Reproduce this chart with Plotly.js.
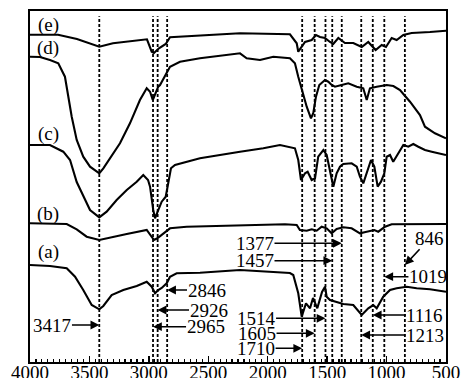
<!DOCTYPE html>
<html>
<head>
<meta charset="utf-8">
<script src="https://cdn.plot.ly/plotly-3.0.1.min.js"></script>
<style>
  html, body { margin: 0; padding: 0; background: #fff; }
  #chart { width: 463px; height: 378px; }
</style>
</head>
<body>
<div id="chart"></div>
<script>
// ---- Data: wavenumber (cm^-1) and offset transmittance (arbitrary units) ----
const wnE = [4000,3764,3605,3417,3302,3016,2976,2957,2915,2858,2822,2233,1813,1756,1743,1686,1630,1594,1560,1518,1476,1448,1406,1350,1280,1209,1154,1092,1041,1005,957,915,859,789,635,500];
const tE  = [327.3,327.3,323,315.3,318.7,322.7,310.3,309,313.7,318,324.7,328.7,327.7,318.7,310.3,320,322,327,325,324,320,318,324,319,319,315,320,312,317,315,324,322,327,329,330,331.3];

const wnD = [4000,3916,3832,3762,3706,3678,3649,3607,3552,3495,3417,3383,3327,3243,3159,3075,3018,2990,2967,2948,2921,2906,2850,2822,2738,2570,2233,2177,2065,1953,1813,1771,1743,1714,1672,1636,1617,1594,1566,1518,1490,1462,1434,1378,1322,1251,1196,1167,1140,1083,999,943,887,803,719,677,593,500];
const tD  = [305.3,305,302,298.7,285.3,265.3,245.3,222,205.3,195.3,188.7,193.7,203.7,218.7,238.7,262,273.7,270.3,262,267,275.3,277,290.3,295.3,300.3,303.7,308.7,303.7,302,305.3,303.7,298.7,285.3,272,255.3,243.7,248.7,265.3,277,282,280.3,277,275.3,277,278.7,275.3,273.7,262,273.7,275.3,277,276,272,260.3,247,235.3,228.7,223.7];

const wnC = [4000,3832,3720,3663,3607,3495,3417,3355,3271,3186,3102,3047,3007,2990,2963,2948,2926,2892,2858,2836,2814,2780,2570,2233,2037,1897,1813,1771,1743,1720,1686,1664,1630,1602,1575,1532,1504,1476,1448,1420,1392,1364,1294,1251,1224,1196,1167,1131,1103,1075,1047,1019,999,971,944,902,859,817,775,733,677,620,565,500];
const tC  = [217,217,210.3,202,180,152,144.7,150.3,162,172,180.3,187,182,175.3,152,143.7,150.3,160.3,165.3,180.3,193.7,197,203.7,210.3,213.7,217,215.3,213.7,202,182,188.7,190.3,182,183.7,205.3,212,207,192,175.3,188.7,195.3,198,198.7,195.3,185.3,178.7,188.7,202,195.3,175.3,180.3,188.7,205.3,207,200.3,208.7,217,215.3,218,215.3,212,210.3,208.7,207];

const wnB = [4000,3691,3607,3523,3417,3355,3186,3018,2976,2957,2929,2892,2850,2822,2682,2233,1855,1756,1729,1672,1630,1588,1546,1504,1462,1420,1364,1294,1224,1167,1103,1070,1013,957,500];
const tB  = [138.7,138,132.7,125.3,122,123.7,128,132,125.3,122,123.7,127,131.3,133.7,135.3,137,137.7,137,132,131.3,132.7,131.3,135.3,133.7,128.7,133,134.7,133.7,128.7,130.3,132,130.3,135.3,137.7,138];

const wnA = [4000,3832,3691,3621,3552,3481,3417,3383,3313,3215,3102,3018,2976,2948,2921,2892,2850,2822,2766,2570,2233,1813,1785,1743,1714,1678,1644,1619,1583,1543,1518,1504,1476,1434,1364,1280,1209,1154,1112,1083,1028,971,915,831,747,635,500];
const tA  = [97,96,93.7,85.3,72,57,52.7,56,67,72,76,80.3,75.3,68.7,72,74,78.7,85.3,88.7,89.3,92,89,87,68.7,45.3,58.7,53.7,64,53.7,70,75.3,65.3,62,60.3,58,57,47,53.7,57,53.7,65.3,72,73.7,75.3,73.7,72.7,70.3];

const curveNames = ["(a)","(b)","(c)","(d)","(e)"];
// marked band positions (cm^-1)
const peaks = [3417,2965,2926,2846,1710,1605,1514,1457,1377,1213,1116,1019,846];
const xTicks = [4000,3500,3000,2500,2000,1500,1000,500];

// ---- Layout configuration (positions / styles) ----
const labelPos = {   // peak -> [text centre x (cm^-1), y (data)]
  3417:[3811,37], 2846:[2515,72], 2926:[2498,52], 2965:[2523,35.3],
  1377:[2107,118.7], 1457:[2107,101.3], 1514:[2098,43.7], 1605:[2090,28.7], 1710:[2098,13.7],
  1019:[652,85.3], 1116:[677,47], 1213:[677,27]
};
const curveLabelPos = [[48,252],[48,214],[48,134],[48,48],[48,25]]; // pixel x,y centres

const black = '#000';
const lineStyle = {color: black, width: 2.1};
const series = [[wnA,tA],[wnB,tB],[wnC,tC],[wnD,tD],[wnE,tE]];
const traces = series.map((s,i) => ({
  x: s[0], y: s[1], type: 'scatter', mode: 'lines',
  line: lineStyle, name: curveNames[i], hoverinfo: 'skip'
}));

const W = 463, H = 378;
const M = {l: 30, r: 17, t: 11, b: 16};
const plotW = W - M.l - M.r, plotH = H - M.t - M.b;

const shapes = peaks.map(p => ({
  type: 'line', xref: 'x', yref: 'paper', x0: p, x1: p, y0: 0, y1: 0.985,
  line: {color: black, width: 1.8, dash: '3px,2px'}
}));

const annFont = {family: 'Liberation Serif, Times New Roman, serif', size: 19, color: black};
const annotations = [];
Object.keys(labelPos).forEach(k => {
  const p = +k, pos = labelPos[k];
  annotations.push({
    x: p, y: pos[1], xref: 'x', yref: 'y', axref: 'x', ayref: 'y',
    ax: pos[0], ay: pos[1], text: String(p), showarrow: true,
    arrowhead: 2, arrowsize: 1.1, arrowwidth: 1.6, arrowcolor: black,
    standoff: 0, startstandoff: 0, font: annFont, borderpad: 0
  });
});
// 846 diagonal arrow
annotations.push({
  x: 846, y: 97, xref: 'x', yref: 'y', axref: 'x', ayref: 'y',
  ax: 635, ay: 123.7, text: '846', showarrow: true,
  arrowhead: 2, arrowsize: 1.1, arrowwidth: 1.6, arrowcolor: black,
  standoff: 0, font: annFont, borderpad: 0
});
curveNames.forEach((n,i) => {
  const c = curveLabelPos[i];
  annotations.push({
    x: (c[0]-M.l)/plotW, y: 1 - (c[1]-M.t)/plotH, xref: 'paper', yref: 'paper',
    text: n, showarrow: false, font: {family: 'Liberation Serif, serif', size: 19, color: black},
    xanchor: 'center', yanchor: 'middle'
  });
});

const layout = {
  width: W, height: H, margin: M,
  paper_bgcolor: '#fff', plot_bgcolor: '#fff', showlegend: false,
  xaxis: {
    range: [4000, 500], tickvals: xTicks, ticks: 'inside', ticklen: 6, tickwidth: 1.5, tickcolor: black,
    minor: {dtick: 50, ticks: 'inside', ticklen: 3, tickwidth: 1.2, tickcolor: black, showgrid: false},
    showgrid: false, zeroline: false, showline: true, linewidth: 2, linecolor: black, mirror: true,
    ticklabelstandoff: -8,
    tickfont: {family: 'Liberation Serif, Times New Roman, serif', size: 19, color: black}
  },
  yaxis: {
    range: [0, 351], showticklabels: false, ticks: '', showgrid: false, zeroline: false,
    showline: true, linewidth: 2, linecolor: black, mirror: true
  },
  shapes: shapes, annotations: annotations
};

Plotly.newPlot('chart', traces, layout, {staticPlot: true, displayModeBar: false});
</script>
</body>
</html>
